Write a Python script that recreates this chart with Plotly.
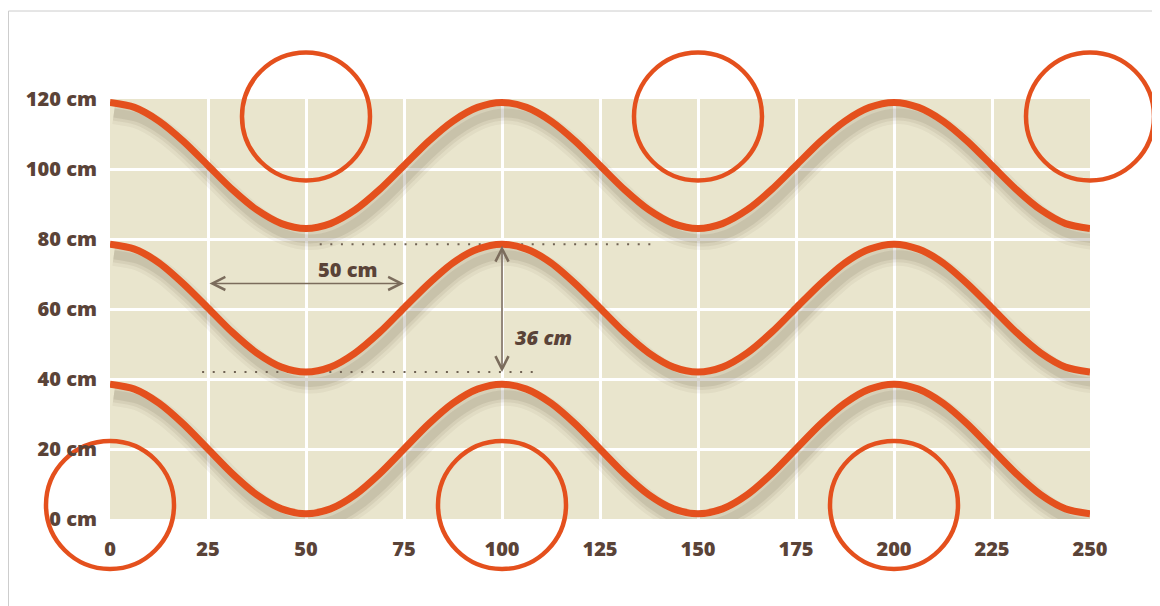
import plotly.graph_objects as go

# ---- data ----
x_pts = [0, 6.25, 12.5, 18.75, 25, 31.25, 37.5, 43.75, 50,
         56.25, 62.5, 68.75, 75, 81.25, 87.5, 93.75, 100,
         106.25, 112.5, 118.75, 125, 131.25, 137.5, 143.75, 150,
         156.25, 162.5, 168.75, 175, 181.25, 187.5, 193.75, 200,
         206.25, 212.5, 218.75, 225, 231.25, 237.5, 243.75, 250]
wave_top = [119, 117.6, 113.7, 107.9, 101, 94.1, 88.3, 84.4, 83,
            84.4, 88.3, 94.1, 101, 107.9, 113.7, 117.6, 119,
            117.6, 113.7, 107.9, 101, 94.1, 88.3, 84.4, 83,
            84.4, 88.3, 94.1, 101, 107.9, 113.7, 117.6, 119,
            117.6, 113.7, 107.9, 101, 94.1, 88.3, 84.4, 83]
wave_mid = [78.5, 77.1, 73.2, 67.2, 60.3, 53.3, 47.4, 43.4, 42,
            43.4, 47.4, 53.3, 60.3, 67.2, 73.2, 77.1, 78.5,
            77.1, 73.2, 67.2, 60.3, 53.3, 47.4, 43.4, 42,
            43.4, 47.4, 53.3, 60.3, 67.2, 73.2, 77.1, 78.5,
            77.1, 73.2, 67.2, 60.3, 53.3, 47.4, 43.4, 42]
wave_bot = [38.5, 37.1, 33.1, 27.1, 20, 12.9, 6.9, 2.9, 1.5,
            2.9, 6.9, 12.9, 20, 27.1, 33.1, 37.1, 38.5,
            37.1, 33.1, 27.1, 20, 12.9, 6.9, 2.9, 1.5,
            2.9, 6.9, 12.9, 20, 27.1, 33.1, 37.1, 38.5,
            37.1, 33.1, 27.1, 20, 12.9, 6.9, 2.9, 1.5]

circle_x = [50, 150, 250, 0, 100, 200]
circle_y = [115, 115, 115, 4, 4, 4]

x_ticks = [0, 25, 50, 75, 100, 125, 150, 175, 200, 225, 250]
x_tick_labels = ["0", "25", "50", "75", "100", "125", "150", "175", "200", "225", "250"]
y_ticks = [0, 20, 40, 60, 80, 100, 120]
y_tick_labels = ["0 cm", "20 cm", "40 cm", "60 cm", "80 cm", "100 cm", "120 cm"]

dot_upper_x = [53.5, 140]
dot_upper_y = [78.5, 78.5]
dot_lower_x = [23.5, 110]
dot_lower_y = [42, 42]

span_arrow_x = [25, 75]
span_arrow_y = 67.3
height_arrow_x = 100
height_arrow_y = [78.5, 42]

label_span = "50 cm"
label_span_pos = (60.5, 71.2)
label_height = "36 cm"
label_height_pos = (110.5, 52)

# ---- styles ----
ORANGE = "#e4501d"
BROWN = "#5a4338"
ARROW = "#7b6c5c"
BG = "#e9e5cd"
FONT = "'Open Sans', Lato, sans-serif"

fig = go.Figure()

waves = [wave_top, wave_mid, wave_bot]

# soft shadows under the waves
for w in waves:
    for width, alpha in [(22, 0.05), (15, 0.07), (9, 0.09)]:
        fig.add_trace(go.Scatter(
            x=[v + 1.0 for v in x_pts], y=[v - 3.0 for v in w],
            mode="lines", line=dict(color=f"rgba(70,60,30,{alpha})", width=width,
                                    shape="spline", smoothing=0.8),
            hoverinfo="skip", showlegend=False, cliponaxis=False))

# dotted guide lines
for dx, dy in [(dot_upper_x, dot_upper_y), (dot_lower_x, dot_lower_y)]:
    fig.add_trace(go.Scatter(
        x=dx, y=dy, mode="lines",
        line=dict(color="#6f6253", width=2.2, dash="2px,8.6px"),
        hoverinfo="skip", showlegend=False))

# waves
for w in waves:
    fig.add_trace(go.Scatter(
        x=x_pts, y=w, mode="lines",
        line=dict(color=ORANGE, width=7, shape="spline", smoothing=0.8),
        hoverinfo="skip", showlegend=False, cliponaxis=False))

# open circles
fig.add_trace(go.Scatter(
    x=circle_x, y=circle_y, mode="markers",
    marker=dict(symbol="circle-open", size=128, color=ORANGE,
                line=dict(width=4.5, color=ORANGE)),
    hoverinfo="skip", showlegend=False, cliponaxis=False))

# arrows
for (hx, hy, tx, ty) in [(span_arrow_x[1], span_arrow_y, span_arrow_x[0], span_arrow_y),
                         (height_arrow_x, height_arrow_y[1], height_arrow_x, height_arrow_y[0])]:
    fig.add_annotation(x=hx, y=hy, ax=tx, ay=ty,
                       xref="x", yref="y", axref="x", ayref="y", text="",
                       showarrow=True, arrowhead=5, startarrowhead=5, arrowside="end+start",
                       arrowsize=1.6, startarrowsize=1.6, arrowwidth=1.6, arrowcolor=ARROW,
                       standoff=0, startstandoff=0)

fig.add_annotation(x=label_span_pos[0], y=label_span_pos[1], text=label_span, showarrow=False,
                   font=dict(family=FONT, size=20, color=BROWN, weight=800))
fig.add_annotation(x=label_height_pos[0], y=label_height_pos[1], text=label_height, showarrow=False,
                   font=dict(family=FONT, size=20, color=BROWN, weight=800, style="italic"))

# outer frame
fig.add_shape(type="rect", xref="paper", yref="paper",
              x0=-0.1036, x1=1.2, y0=-0.4, y1=1.2095,
              line=dict(color="#cccccc", width=1), fillcolor="rgba(0,0,0,0)", layer="below")

fig.update_layout(
    width=1152, height=598,
    margin=dict(l=102, r=70, t=91, b=87),
    paper_bgcolor="white", plot_bgcolor=BG,
    font=dict(family=FONT, color=BROWN),
    showlegend=False,
    xaxis=dict(range=[0, 250], tickvals=x_ticks, ticktext=x_tick_labels,
               showgrid=True, gridcolor="white", gridwidth=2.5, zeroline=False,
               showline=False, ticks="", ticklabelstandoff=16,
               tickfont=dict(family=FONT, size=20, color=BROWN, weight=800)),
    yaxis=dict(range=[0, 120], tickvals=y_ticks, ticktext=y_tick_labels,
               showgrid=True, gridcolor="white", gridwidth=2.5, zeroline=False,
               showline=False, ticks="", ticklabelstandoff=12,
               tickfont=dict(family=FONT, size=20, color=BROWN, weight=800)),
)

fig.write_html("out.html")
